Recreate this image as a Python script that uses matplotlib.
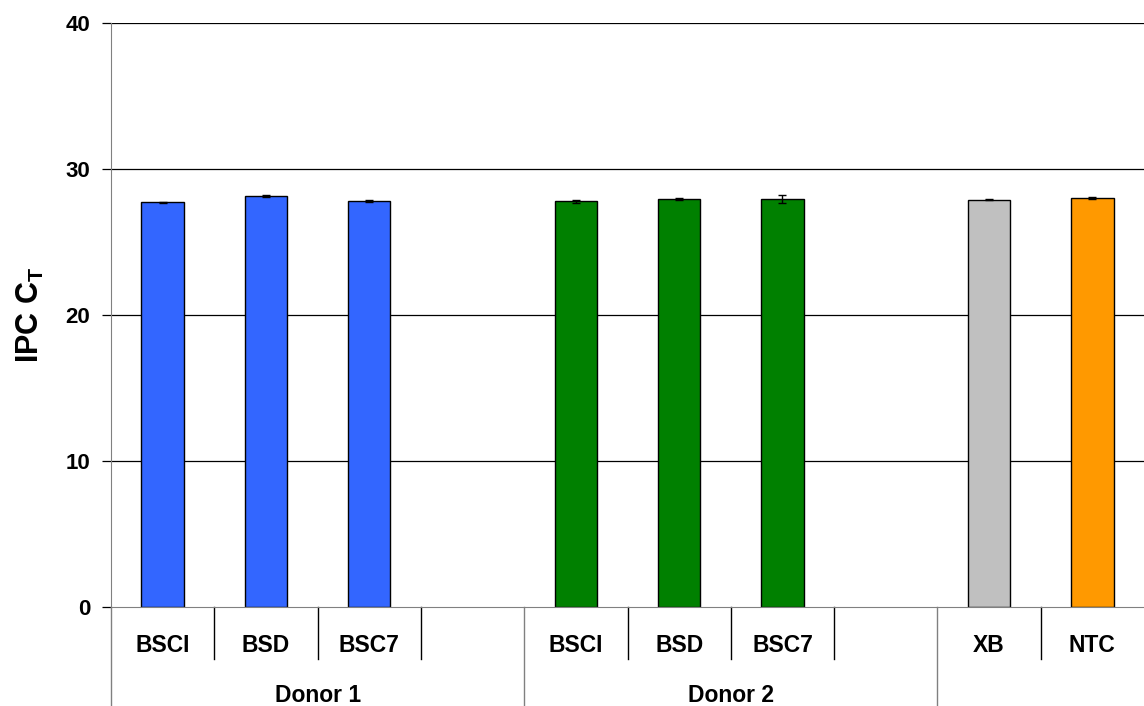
import numpy as np
import matplotlib
matplotlib.use("Agg")
from matplotlib import pyplot as plt
from matplotlib import transforms

plt.rcParams["font.family"] = ["Liberation Sans", "DejaVu Sans"]
plt.rcParams["font.weight"] = "bold"
plt.rcParams["mathtext.fontset"] = "custom"
plt.rcParams["mathtext.rm"] = "Liberation Sans:bold"
plt.rcParams["mathtext.bf"] = "Liberation Sans:bold"

# one slot per sample; empty slots separate the donors
samples = ["BSCI", "BSD", "BSC7", "", "BSCI", "BSD", "BSC7", "", "XB", "NTC"]
ct_mean = [27.72, 28.15, 27.80, np.nan, 27.80, 27.95, 27.95, np.nan, 27.90, 28.00]
ct_err = [0.05, 0.10, 0.05, 0.0, 0.10, 0.05, 0.27, 0.0, 0.05, 0.05]
colors = ["#3366FF", "#3366FF", "#3366FF", "none",
          "#008000", "#008000", "#008000", "none",
          "#C0C0C0", "#FF9900"]
groups = ["Donor 1", "Donor 2", ""]
group_spans = [(0, 3), (4, 7), (8, 9)]
yticks = [0, 10, 20, 30, 40]

fig = plt.figure(figsize=(11.44, 7.06), dpi=100)
ax = fig.add_axes([111 / 1144, 99 / 706, 1 - 111 / 1144, 584 / 706])

x = np.arange(len(samples))
ax.set_xlim(-0.5, len(samples) - 0.5)
ax.set_ylim(0, 40)

for y in yticks[1:]:
    ax.axhline(y, color="black", lw=0.9, zorder=1)

ax.bar(x, ct_mean, width=0.41, color=colors, edgecolor="black", lw=1.0, zorder=2)
ax.errorbar(x, ct_mean, yerr=ct_err, fmt="none", ecolor="black",
            elinewidth=1.0, capsize=3, capthick=1.0, zorder=3)

ax.set_yticks(yticks)
ax.tick_params(axis="y", direction="out", length=6.5, width=0.9, pad=8.5,
               labelsize=16, colors="black")
ax.tick_params(axis="x", bottom=False, labelbottom=False)
for side in ["top", "right"]:
    ax.spines[side].set_visible(False)
ax.spines["left"].set_color("#808080")
ax.spines["bottom"].set_color("#808080")

ax.set_ylabel(r"IPC C$_\mathrm{T}$", fontsize=22, fontweight="bold", labelpad=14)

# two-level category axis drawn below the plot area
trans = transforms.blended_transform_factory(ax.transData, ax.transAxes)
lvl1 = -52 / 584
lvl2 = -99 / 584
ax.plot([-0.5, -0.5], [0, lvl2], transform=trans, color="#808080", lw=1.0, clip_on=False)
for i in range(len(samples)):
    ax.text(i, -38 / 584, samples[i], transform=trans, ha="center", va="center",
            fontsize=16.5, fontweight="bold")
for (lo, hi), name in zip(group_spans, groups):
    for b in range(lo, hi):
        ax.plot([b + 0.5, b + 0.5], [0, lvl1], transform=trans, color="black",
                lw=1.0, clip_on=False)
    if hi < len(samples) - 1:
        ax.plot([hi + 0.5, hi + 0.5], [0, lvl2], transform=trans, color="#808080",
                lw=1.0, clip_on=False)
    ax.text((lo + hi) / 2, -88 / 584, name, transform=trans, ha="center",
            va="center", fontsize=16.5, fontweight="bold")

fig.savefig("out.png", dpi=100)
